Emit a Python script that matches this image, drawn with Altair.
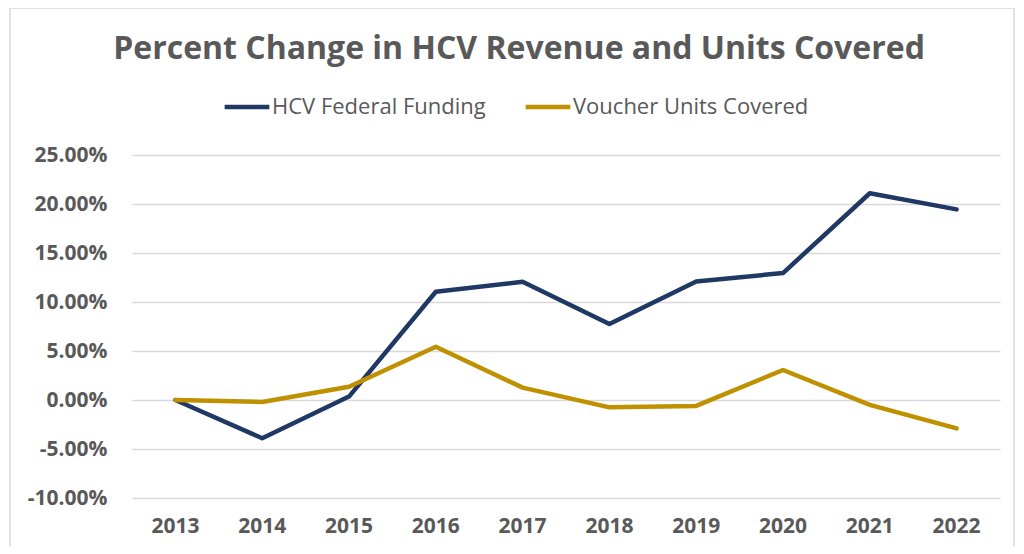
import altair as alt
import pandas as pd

years = ["2013", "2014", "2015", "2016", "2017", "2018", "2019", "2020", "2021", "2022"]
hcv_funding = [0.0, -0.039, 0.0035, 0.1105, 0.1207, 0.0775, 0.121, 0.1295, 0.211, 0.1945]
voucher_units = [0.0, -0.002, 0.0136, 0.0544, 0.0126, -0.0075, -0.006, 0.0306, -0.005, -0.029]
series_names = ["HCV Federal Funding", "Voucher Units Covered"]
series_colors = ["#1F3864", "#BF9000"]

rows = []
for y, v in zip(years, hcv_funding):
    rows.append({"Year": y, "Series": series_names[0], "Value": v})
for y, v in zip(years, voucher_units):
    rows.append({"Year": y, "Series": series_names[1], "Value": v})
df = pd.DataFrame(rows)

FONT = "Open Sans, Noto Sans, sans-serif"
GRAY = "#595959"

border = alt.Chart(alt.Data(values=[{"a": 1}])).mark_rect(
    filled=False, stroke="#d9d9d9", strokeWidth=1.5
).encode(
    x=alt.value(-122), x2=alt.value(882), y=alt.value(-147), y2=alt.value(420)
)

lines = alt.Chart(df).mark_line(strokeWidth=4.5, strokeCap="round", strokeJoin="round").encode(
    x=alt.X("Year:N", sort=years, title=None,
            scale=alt.Scale(type="band", paddingInner=0, paddingOuter=0),
            axis=alt.Axis(labelAngle=0, ticks=False, domain=False, grid=False,
                          labelFont=FONT, labelFontSize=21, labelFontWeight="bold",
                          labelColor=GRAY, labelPadding=17)),
    y=alt.Y("Value:Q", title=None,
            scale=alt.Scale(domain=[-0.10, 0.25], nice=False, zero=False),
            axis=alt.Axis(values=[-0.10, -0.05, 0, 0.05, 0.10, 0.15, 0.20, 0.25],
                          labelExpr="replace(format(datum.value, '.2%'), '\u2212', '-')",
                          ticks=False, domain=False,
                          gridColor="#d9d9d9", gridWidth=1.5,
                          labelFont=FONT, labelFontSize=21, labelFontWeight="bold",
                          labelColor=GRAY, labelPadding=25)),
    color=alt.Color("Series:N", sort=series_names,
                    scale=alt.Scale(domain=series_names, range=series_colors),
                    legend=alt.Legend(title=None, orient="none", direction="horizontal",
                                      legendX=90, legendY=-73,
                                      symbolType="stroke", symbolSize=2000,
                                      symbolStrokeWidth=4.5,
                                      labelFont=FONT, labelFontSize=22,
                                      labelColor=GRAY, labelFontWeight="normal",
                                      labelLimit=400,
                                      columnPadding=30, labelOffset=0)),
    detail="Series:N",
)

chart = alt.layer(border, lines).properties(
    width=868, height=343,
    title=alt.TitleParams(
        "Percent Change in HCV Revenue and Units Covered",
        font=FONT, fontSize=32, fontWeight="bold", color=GRAY,
        anchor="middle", frame="bounds", baseline="alphabetic", offset=0, dy=84, dx=7,
    ),
    autosize=alt.AutoSizeParams(type="none"),
    padding={"left": 124, "top": 147, "right": 16, "bottom": 48},
    background="white",
).configure_view(stroke=None)

chart.save("out.html", embed_options={"renderer": "svg", "actions": False})
